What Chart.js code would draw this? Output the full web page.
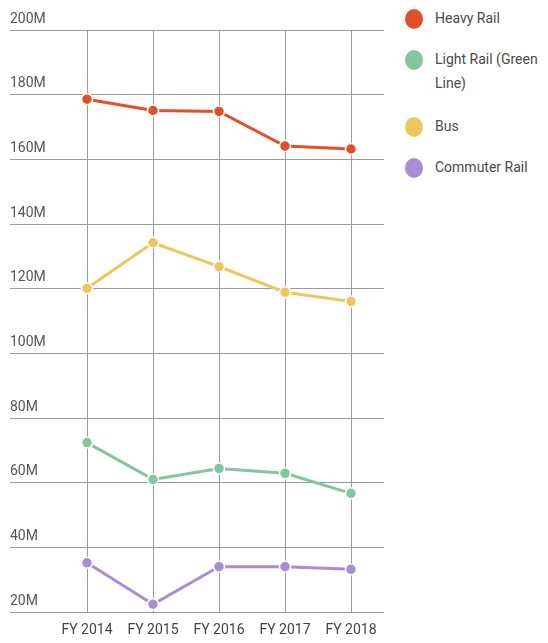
<!DOCTYPE html>
<html>
<head>
<meta charset="utf-8">
<script src="https://cdn.jsdelivr.net/npm/chart.js@4"></script>
<style>
  html, body { margin: 0; padding: 0; background: #fff; }
  body { width: 548px; height: 643px; position: relative; overflow: hidden; font-family: Roboto, "Liberation Sans", sans-serif; }
  #wrap { position: absolute; left: 0; top: 0; width: 392px; height: 643px; }
  #legend { position: absolute; left: 405px; top: 7px; width: 143px; }
  .item { display: flex; align-items: flex-start; margin-bottom: 18px; }
  .item.two { margin-bottom: 20px; }
  .dot { width: 18px; height: 20px; border-radius: 50%; margin-top: 2px; margin-right: 12px; flex: none; }
  .txt { font-size: 14px; line-height: 24px; color: #4a4a4a; width: 112px; margin-top: -1px; }
</style>
</head>
<body>
<div id="wrap"><canvas id="chart"></canvas></div>
<div id="legend"></div>
<script>
let categories = ['FY 2014', 'FY 2015', 'FY 2016', 'FY 2017', 'FY 2018']
let seriesNames = ['Heavy Rail', 'Light Rail (Green Line)', 'Bus', 'Commuter Rail']
let heavyRail = [178.6, 175.1, 174.8, 164.1, 163.2]
let lightRail = [72.4, 61.0, 64.4, 62.9, 56.7]
let bus = [120.1, 134.2, 126.8, 118.9, 116.0]
let commuterRail = [35.2, 22.4, 34.0, 34.0, 33.2]
let colors = ['#E2502B', '#84C69E', '#EDC75C', '#A98DD5']
let yTicks = [20, 40, 60, 80, 100, 120, 140, 160, 180, 200]

let chart = null

function makeSet(i, data) {
    return {
        label: seriesNames[i],
        data: data,
        borderColor: colors[i],
        backgroundColor: colors[i],
        borderWidth: 3,
        pointRadius: 5.5,
        pointHoverRadius: 5.5,
        pointBorderColor: '#fff',
        pointBorderWidth: 1.5,
        tension: 0
    }
}

function initChart() {
    const ctx = document.getElementById('chart').getContext('2d');
    chart = new Chart(ctx, {
        type: 'line',
        data: {
            labels: categories,
            datasets: [
                makeSet(0, heavyRail),
                makeSet(1, lightRail),
                makeSet(2, bus),
                makeSet(3, commuterRail)
            ]
        },
        options: {
            responsive: true,
            maintainAspectRatio: false,
            animation: false,
            layout: { padding: { left: 10, top: 30, right: 8, bottom: 0 } },
            scales: {
                x: {
                    offset: true,
                    grid: { color: '#9a9a9a', lineWidth: 1, drawTicks: false, offset: false },
                    border: { display: false },
                    ticks: {
                        color: '#444',
                        font: { family: 'Roboto', size: 14 },
                        padding: 10,
                        maxRotation: 0,
                        autoSkip: false
                    },
                    afterFit: function (scale) { scale.height = 31 }
                },
                y: {
                    min: 20,
                    max: 200,
                    afterBuildTicks: function (scale) {
                        scale.ticks = yTicks.map(v => ({ value: v }))
                    },
                    grid: { color: '#9a9a9a', lineWidth: 1, drawTicks: true, tickLength: 44 },
                    border: { display: false },
                    ticks: {
                        color: '#555',
                        font: { family: 'Roboto', size: 14 },
                        crossAlign: 'far',
                        labelOffset: -11,
                        callback: function (v) { return v + 'M' }
                    },
                    afterFit: function (scale) { scale.width = 44 }
                }
            },
            plugins: {
                legend: { display: false },
                tooltip: { enabled: false }
            }
        }
    });

    const legend = document.getElementById('legend');
    chart.data.datasets.forEach(function (ds) {
        const item = document.createElement('div');
        item.className = 'item';
        const dot = document.createElement('span');
        dot.className = 'dot';
        dot.style.background = ds.borderColor;
        const txt = document.createElement('span');
        txt.className = 'txt';
        txt.textContent = ds.label;
        item.appendChild(dot);
        item.appendChild(txt);
        legend.appendChild(item);
        if (txt.offsetHeight > 30) item.classList.add('two');
    });
}

initChart()
</script>
</body>
</html>
